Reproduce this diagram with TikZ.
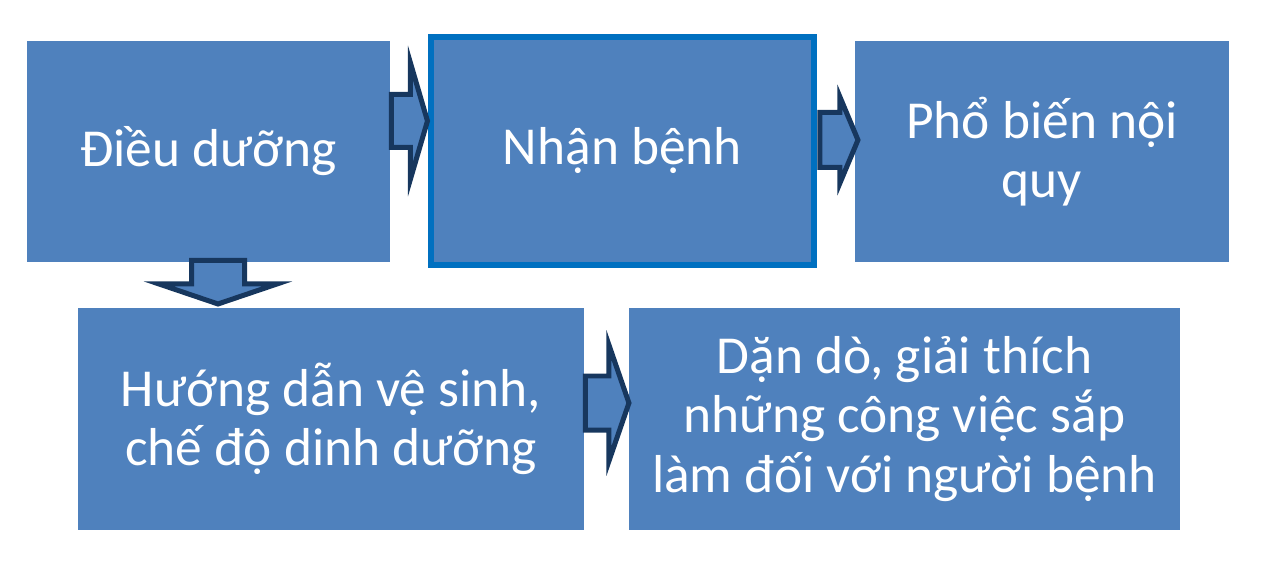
\documentclass[tikz,border=0pt]{standalone}
\usepackage{fontspec}
\setmainfont{Carlito}
\usetikzlibrary{calc}

\definecolor{boxblue}{HTML}{4F81BD}
\definecolor{edgeblue}{HTML}{0070C0}
\definecolor{navy}{HTML}{17375E}

\tikzset{
  pics/blockarrow/.style n args={4}{code={
    \draw[arrowline] (0,-#2) -- (#1-#4,-#2) -- (#1-#4,-#3) -- (#1,0)
      -- (#1-#4,#3) -- (#1-#4,#2) -- (0,#2) -- cycle;
  }}
}

\begin{document}
\begin{tikzpicture}[x=0.02cm,y=-0.02cm,
    box/.style={fill=boxblue, text=white, inner sep=0pt, outer sep=0pt,
      align=center, font=\fontsize{30.4pt}{33.9pt}\selectfont},
    arrowline/.style={draw=navy, fill=boxblue, line width=0.1cm, line join=miter}]
      \useasboundingbox (0,0) rectangle (1264,567);

      % Top row
      \node[box, minimum width=7.26cm, minimum height=4.42cm] (dieu)
        at (208.5,151.5) {Điều dưỡng};
      \node[box, draw=edgeblue, line width=0.12cm,
        minimum width=7.66cm, minimum height=4.56cm] (nhan)
        at (622.5,151) {Nhận bệnh};
      \node[box, minimum width=7.48cm, minimum height=4.42cm] (pho)
        at (1042,151.5) {Phổ biến nội\\quy};

      % Bottom row
      \node[box, minimum width=10.12cm, minimum height=4.44cm] (huong)
        at (331,419) {Hướng dẫn vệ sinh,\\chế độ dinh dưỡng};
      \node[box, minimum width=11.02cm, minimum height=4.44cm] (dando)
        at (904.5,419) {Dặn dò, giải thích\\những công việc sắp\\làm đối với người bệnh};

      % Block arrows
      \pic at ($(dieu.east)+(1.5,-30.5)$) {blockarrow={36}{26.5}{58}{17}};
      \pic at ($(nhan.east)+(6,-11)$) {blockarrow={38}{27.5}{43}{18}};
      \pic[rotate=-90] at ($(dieu.south)+(9.5,-1.5)$) {blockarrow={43.5}{26.5}{59}{20}};
      \pic at ($(huong.east)+(1.5,-16)$) {blockarrow={43.5}{27}{58}{20}};
    \end{tikzpicture}
\end{document}
